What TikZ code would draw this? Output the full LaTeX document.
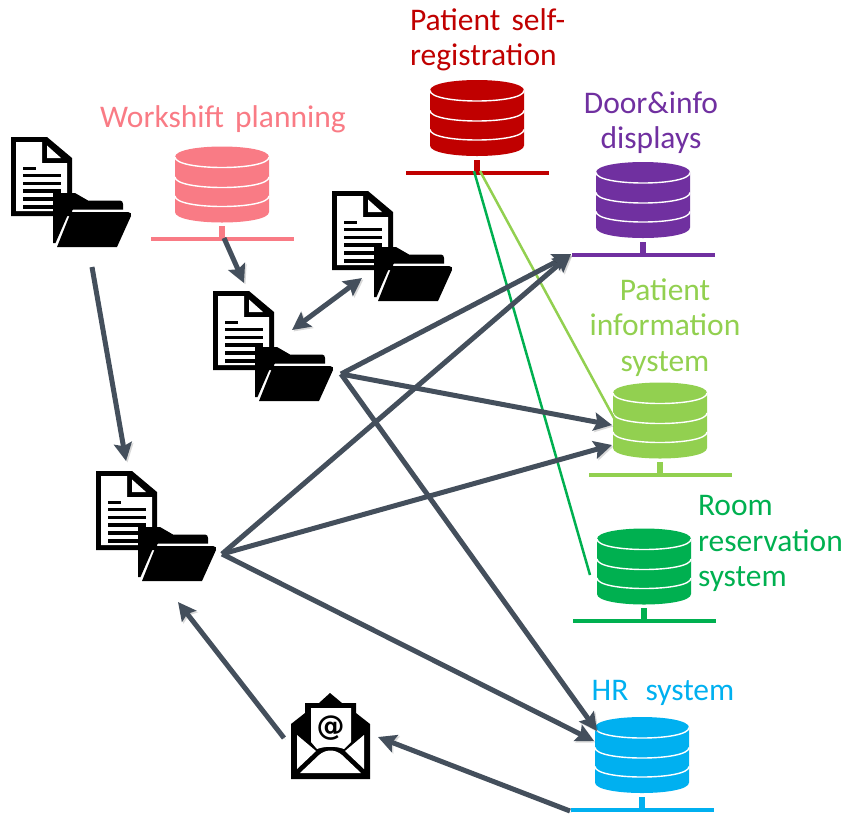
\documentclass[tikz,border=0pt]{standalone}
\usepackage{fontspec}
\setmainfont{Carlito}
\newfontfamily\symfont{DejaVu Sans}
\usetikzlibrary{arrows.meta}
\definecolor{cpink}{HTML}{F97B85}
\definecolor{cred}{HTML}{C00000}
\definecolor{cpurple}{HTML}{7030A0}
\definecolor{clime}{HTML}{92D050}
\definecolor{cgreen}{HTML}{00B050}
\definecolor{cblue}{HTML}{00B0F0}
\definecolor{cflow}{HTML}{444F5C}
\tikzset{
  lbl/.style={inner sep=0pt,outer sep=0pt,align=center,font=\fontsize{31.5}{35.5}\selectfont},
  flow/.style={draw=cflow,line width=5pt,-{Stealth[length=18pt,width=18pt,inset=3pt]},
    preaction={draw=black,opacity=.15,transform canvas={shift={(1.5pt,-1.5pt)}}}},
  flowboth/.style={flow,{Stealth[length=18pt,width=18pt,inset=3pt]}-{Stealth[length=18pt,width=18pt,inset=3pt]}},
  link/.style={line width=2.5pt},
  pics/dbase/.style={code={
    \fill[#1] (-47,-82) .. controls (-47,-96) and (47,-96) .. (47,-82)
      -- (47,-27) .. controls (47,-13) and (-47,-13) .. (-47,-27) -- cycle;
    \foreach \c in {-82,-62,-43}
      \draw[white,line width=1.4pt] (-47,\c) .. controls (-47,\c+14) and (47,\c+14) .. (47,\c);
    \fill[#1] (-3,-13) rectangle (3,0);
    \fill[#1] (-71.5,-2) rectangle (71.5,2);
  }},
  pics/docfolder/.style={code={
    % document
    \fill[black] (0,0) -- (36,0) -- (61,21) -- (61,79) -- (0,79) -- cycle;
    \fill[white] (5,5) -- (31,5) -- (31,26) -- (56,26) -- (56,74) -- (5,74) -- cycle;
    \fill[white] (36,8.5) -- (36,21) -- (50,21) -- cycle;
    \fill[black] (12,29.5) rectangle (25,33);
    \foreach \y in {36.5,44.5,52,60,68} \fill[black] (12,\y) rectangle (50,\y+3.8);
    % folder
    \fill[black] (42,56) -- (64,56) -- (77,63.5) -- (109,63.5) .. controls (111,63.5) and (112,65) .. (112,67)
      -- (112,72.5) -- (62,72.5) -- (60,74.5) -- (58,75) -- (44.5,106) -- (42,106) -- cycle;
    \fill[black] (60,75) -- (117,75) .. controls (120,75) and (120.5,77) .. (120,79)
      -- (106,110) -- (46,110) -- cycle;
  }},
  pics/mailicon/.style={code={
    \fill[black] (291,724) -- (305,713) -- (305,703) -- (319,703) -- (330,693) -- (342,703)
      -- (356,703) -- (356,713) -- (370,724) -- (370,779) -- (291,779) -- cycle;
    \fill[white] (311,708) -- (351,708) -- (351,742) -- (344,749)
      .. controls (336,746) and (325,746) .. (317,749) -- (311,742) -- cycle;
    \fill[white] (297,735) -- (316,751) -- (297,769) -- cycle;
    \fill[white] (364,735) -- (345,751) -- (364,769) -- cycle;
    \fill[white] (300,773) -- (319,755) .. controls (326,749) and (335,749) .. (342,755) -- (361,773) -- cycle;
  }}
}
\begin{document}
\begin{tikzpicture}[x=1pt,y=-1pt]
\useasboundingbox (0,0) rectangle (845,815);

% connector end points
\coordinate (pinkout) at (224,238);
\coordinate (d2in) at (244,283);
\coordinate (d1out) at (92,267);
\coordinate (d4in) at (126,461);
\coordinate (d2a) at (292,330);
\coordinate (d3a) at (362,278);
\coordinate (d2out) at (341,374);
\coordinate (doorin) at (571,254);
\coordinate (pisin) at (612,425);
\coordinate (hrin) at (597,731);
\coordinate (d4out) at (222,554);
\coordinate (pisinb) at (612,445);
\coordinate (hrinb) at (594,741);
\coordinate (hrout) at (570,811);
\coordinate (mailin) at (378,737);
\coordinate (mailout) at (284,738);
\coordinate (d4inb) at (178,602);
\coordinate (redouta) at (474,171);
\coordinate (redoutb) at (480,171);
\coordinate (roomin) at (590,575);
\coordinate (pisinc) at (614,418);

% databases
\pic at (222,239) {dbase=cpink};
\pic at (477,172.5) {dbase=cred};
\pic at (643,254.5) {dbase=cpurple};
\pic at (660,475) {dbase=clime};
\pic at (644,621) {dbase=cgreen};
\pic at (642,809.5) {dbase=cblue};

% thin links
\draw[link,cgreen] (redouta) -- (roomin);
\draw[link,clime] (redoutb) -- (pisinc);

% document + folder icons
\pic at (11,137) {docfolder};
\pic at (213,291) {docfolder};
\pic at (332,191) {docfolder};
\pic at (96,471) {docfolder};

% mail icon
\pic at (0,0) {mailicon};
\node[inner sep=0pt,font=\symfont\bfseries\fontsize{28}{28}\selectfont] (at) at (330.5,728) {@};

% labels
\node[lbl,text=cpink] (lwork) at (223,119.5) {Workshift\hspace{4pt} planning};
\node[lbl,text=cred,align=left,anchor=west] (lreg) at (410,40) {Patient\hspace{4pt} self-\\registration};
\node[lbl,text=cpurple] (ldoor) at (651,122.5) {Door\&info\\displays};
\node[lbl,text=clime] (lpis) at (665,327.5) {Patient\\information\\system};
\node[lbl,text=cgreen,align=left,anchor=west] (lroom) at (698,543.5) {Room\\reservation\\system};
\node[lbl,text=cblue] (lhr) at (663,692.5) {HR\hspace{10pt} system};

% flows
\draw[flow] (pinkout) -- (d2in);
\draw[flow] (d1out) -- (d4in);
\draw[flowboth] (d2a) -- (d3a);
\draw[flow] (d2out) -- (doorin);
\draw[flow] (d2out) -- (pisin);
\draw[flow] (d2out) -- (hrin);
\draw[flow] (d4out) -- (doorin);
\draw[flow] (d4out) -- (pisinb);
\draw[flow] (d4out) -- (hrinb);
\draw[flow] (hrout) -- (mailin);
\draw[flow] (mailout) -- (d4inb);
\end{tikzpicture}
\end{document}
